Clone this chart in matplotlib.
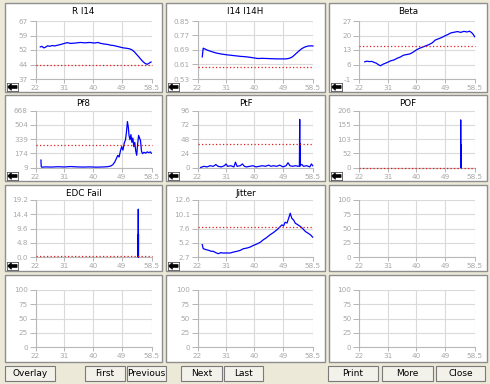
import numpy as np
import matplotlib
matplotlib.use("Agg")
import matplotlib.pyplot as plt
from matplotlib.patches import Rectangle, Polygon

W, H = 490, 384

xticks = [22, 31, 40, 49, 58.5]
xtick_labels = ["22", "31", "40", "49", "58.5"]

ri14_x = [23.5, 24.0, 24.6, 25.2, 25.8, 26.4, 27.2, 28.0, 29.0, 30.0, 31.0, 32.0, 33.0, 34.5,
          36.0, 37.5, 39.0, 40.5, 41.5, 42.5, 43.5, 44.5, 45.5, 46.5, 47.5, 48.5, 49.5, 50.5,
          51.5, 52.3, 53.0, 53.8, 54.5, 55.2, 55.8, 56.4, 57.0, 57.6, 58.2]
ri14_y = [53.6, 53.9, 53.1, 53.5, 54.2, 53.9, 54.3, 54.1, 54.5, 54.9, 55.4, 55.8, 55.4, 55.6,
          55.9, 55.7, 55.9, 55.6, 55.9, 55.4, 55.1, 54.9, 54.5, 54.3, 53.9, 53.5, 53.1, 52.9,
          52.6, 52.0, 51.0, 49.5, 48.2, 46.8, 45.8, 45.0, 44.6, 45.2, 45.8]

i14_x = [23.5, 23.8, 24.3, 25.0, 26.0, 27.0, 28.0, 29.5, 31.0, 32.5, 34.0, 35.5, 37.0, 38.5,
         40.0, 41.0, 42.5, 44.0, 45.5, 47.0, 48.5, 50.0, 51.0, 52.0, 53.0, 54.0, 55.0, 56.0,
         57.0, 58.0, 58.5]
i14_y = [0.652, 0.700, 0.696, 0.690, 0.684, 0.678, 0.673, 0.668, 0.664, 0.661, 0.658, 0.655,
         0.653, 0.650, 0.646, 0.643, 0.644, 0.643, 0.642, 0.641, 0.641, 0.641, 0.644, 0.652,
         0.668, 0.684, 0.698, 0.707, 0.712, 0.713, 0.712]

beta_x = [23.8, 24.5, 25.3, 26.0, 26.8, 27.5, 28.2, 28.8, 29.5, 30.3, 31.2, 32.0, 33.0, 34.0,
          35.0, 36.0, 37.0, 38.0, 39.0, 40.0, 41.0, 42.0, 43.0, 44.0, 45.0, 46.0, 47.0, 48.0,
          49.0, 50.0, 51.0, 52.0, 53.0, 54.0, 55.0, 56.0, 56.8, 57.5, 58.0, 58.4]
beta_y = [7.3, 7.6, 7.4, 7.5, 7.0, 6.6, 5.8, 5.4, 6.1, 6.6, 7.2, 7.8, 8.2, 9.0,
          9.6, 10.5, 10.8, 11.1, 11.9, 13.0, 13.8, 14.4, 15.0, 15.6, 16.4, 17.8, 18.4, 19.0,
          19.8, 20.5, 21.3, 21.6, 21.9, 21.5, 22.0, 21.7, 22.1, 21.3, 20.4, 19.4]

pf8_x = [23.7, 23.8, 24.0, 25.0, 27.0, 29.0, 31.0, 33.0, 35.0, 37.0, 39.0, 41.0, 43.0, 44.5,
         45.5, 46.2, 46.8, 47.3, 47.8, 48.2, 48.6, 49.0, 49.4, 49.8, 50.2, 50.5, 50.8, 51.1,
         51.3, 51.6, 51.9, 52.2, 52.5, 52.8, 53.1, 53.4, 53.7, 54.0, 54.3, 54.6, 54.9, 55.2,
         55.5, 56.0, 56.5, 57.0, 57.5, 58.0, 58.3]
pf8_y = [95, 20, 12, 16, 14, 18, 15, 20, 16, 14, 16, 13, 15, 18,
         25, 40, 70, 110, 150, 130, 200, 250, 210, 290, 330, 420, 540, 470,
         380, 330, 390, 300, 350, 250, 300, 200, 150, 280, 380, 350, 320, 200,
         170, 185, 175, 190, 180, 190, 175]

ptf_x = [23.0, 24.0, 25.0, 26.0, 27.0, 27.8, 28.5, 29.5, 30.5, 31.0, 31.5, 32.5, 33.5, 34.0,
         34.5, 35.5, 36.2, 36.8, 37.5, 38.5, 39.5, 40.5, 41.5, 42.5, 43.5, 44.5, 45.2, 46.0,
         47.0, 48.0, 49.0, 50.0, 50.6, 51.2, 52.0, 53.0, 53.8, 54.2, 54.3, 54.35, 54.4, 54.45,
         55.0, 55.5, 56.5, 57.5, 58.0, 58.4]
ptf_y = [0, 2, 1, 3, 2, 5, 2, 1, 3, 6, 2, 3, 1, 9,
         2, 3, 6, 2, 1, 2, 3, 1, 2, 3, 2, 4, 2, 3,
         2, 4, 1, 3, 8, 3, 2, 3, 2, 3, 81, 2, 40, 4,
         5, 2, 3, 1, 6, 3]

pof_x = [53.98, 54.0, 54.03, 54.06, 54.08]
pof_y = [0, 172, 0, 82, 0]

edc_x = [54.18, 54.2, 54.23, 54.26, 54.28]
edc_y = [0, 16.1, 0, 7.7, 0]

jit_x = [23.5, 23.8, 24.3, 24.9, 25.6, 26.3, 27.0, 27.8, 28.6, 29.3, 30.1, 31.2, 32.3, 33.3,
         34.4, 35.5, 36.5, 37.6, 38.6, 39.6, 40.7, 41.8, 42.8, 43.8, 44.9, 46.0, 47.1, 47.9,
         48.7, 49.2, 49.7, 50.3, 50.8, 51.3, 51.8, 52.4, 52.9, 53.7, 54.5, 55.3, 56.1, 56.9,
         57.7, 58.4]
jit_y = [4.85, 4.15, 4.05, 3.95, 3.85, 3.70, 3.68, 3.45, 3.27, 3.45, 3.39, 3.40, 3.39, 3.55,
         3.68, 3.85, 4.14, 4.25, 4.42, 4.70, 4.94, 5.25, 5.69, 6.05, 6.55, 6.95, 7.42, 7.85,
         8.28, 8.10, 8.74, 8.60, 9.43, 10.3, 9.43, 9.10, 8.57, 8.30, 8.00, 7.60, 7.13, 6.85,
         6.55, 6.15]

# title, x, y, ylim, ytick labels, threshold
panels = [
    ("R I14", ri14_x, ri14_y, (37, 67), ["37", "44", "52", "59", "67"], 44.5),
    ("I14 I14H", i14_x, i14_y, (0.53, 0.85), ["0.53", "0.61", "0.69", "0.77", "0.85"], 0.598),
    ("Beta", beta_x, beta_y, (-1, 27), ["-1", "6", "13", "20", "27"], 15.0),
    ("Pf8", pf8_x, pf8_y, (9, 668), ["9", "174", "339", "504", "668"], 271),
    ("PtF", ptf_x, ptf_y, (0, 96), ["0", "24", "48", "72", "96"], 39.5),
    ("POF", pof_x, pof_y, (0, 206), ["0", "52", "103", "155", "206"], 0),
    ("EDC Fail", edc_x, edc_y, (0, 19.2), ["0.0", "4.8", "9.6", "14.4", "19.2"], 0.45),
    ("Jitter", jit_x, jit_y, (2.7, 12.6), ["2.7", "5.2", "7.6", "10.1", "12.6"], 7.88),
    (None, None, None, (0, 100), ["0", "25", "50", "75", "100"], None),
    (None, None, None, (0, 100), ["0", "25", "50", "75", "100"], None),
    (None, None, None, (0, 100), ["0", "25", "50", "75", "100"], None),
    (None, None, None, (0, 100), ["0", "25", "50", "75", "100"], None),
]

buttons = [("Overlay", 5, 55), ("First", 85, 125), ("Previous", 127, 166),
           ("Next", 181, 222), ("Last", 224, 263), ("Print", 328, 378),
           ("More", 382, 433), ("Close", 436, 485)]

# --- layout in pixels ---
col_ax = [(35.5, 152), (197.5, 313), (359, 475)]
row_ax = [(21, 79), (110.5, 167.5), (200, 257), (290, 347)]
col_pan = [(5, 162), (166, 325), (329, 487)]
row_pan = [(3, 92), (95, 181), (185, 271), (275, 362)]

BG = "#ECE9D8"
GRID = "#DADADA"
TXT = "#A8A8A8"


def box(x0, y0, x1, y1):
    return [x0 / W, 1 - y1 / H, (x1 - x0) / W, (y1 - y0) / H]


fig = plt.figure(figsize=(W / 100, H / 100), dpi=100, facecolor=BG)
plt.rcParams['font.family'] = ['DejaVu Sans']

for i, (title, xs, ys, ylim, ylabels, thr) in enumerate(panels):
    r, c = divmod(i, 3)
    px0, px1 = col_pan[c]
    py0, py1 = row_pan[r]
    fig.patches.append(Rectangle((px0 / W, 1 - py1 / H), (px1 - px0) / W, (py1 - py0) / H,
                                 transform=fig.transFigure, facecolor="white",
                                 edgecolor="#8E8E8E", lw=1, zorder=-10))
    ax = fig.add_axes(box(col_ax[c][0], row_ax[r][0], col_ax[c][1], row_ax[r][1]))
    ax.set_facecolor("white")
    ax.set_xlim(22, 58.5)
    ax.set_ylim(*ylim)
    ax.set_xticks(xticks)
    ax.set_xticklabels(xtick_labels)
    ax.set_yticks(np.linspace(ylim[0], ylim[1], 5))
    ax.set_yticklabels(ylabels)
    ax.grid(True, color=GRID, lw=0.8)
    ax.set_axisbelow(True)
    for s in ("top", "right"):
        ax.spines[s].set_visible(False)
    for s in ("left", "bottom"):
        ax.spines[s].set_color("#B8B8B8")
        ax.spines[s].set_linewidth(0.8)
    ax.tick_params(colors=TXT, labelsize=5.2, length=3, width=0.6, pad=1.5)
    ax.tick_params(axis="y", length=4)
    if title is not None:
        ax.plot(xs, ys, color="#0000FF", lw=0.9, zorder=3, clip_on=False)
        ax.axhline(thr, color="#E02020", lw=0.9, ls=(0, (1, 1.8)), zorder=4, clip_on=False)
        fig.text((px0 + px1) / 2 / W, 1 - (py0 + 9) / H, title,
                 ha="center", va="center", fontsize=6.3, color="black")
        # back-arrow icon
        iax = fig.add_axes(box(px0 + 1.5, py1 - 9, px0 + 13, py1 - 1))
        iax.set_xlim(0, 1)
        iax.set_ylim(0, 1)
        iax.set_xticks([])
        iax.set_yticks([])
        iax.set_facecolor("white")
        for sp in iax.spines.values():
            sp.set_color("#555555")
            sp.set_linewidth(0.6)
        iax.add_patch(Polygon([[0.08, 0.5], [0.42, 0.92], [0.42, 0.68], [0.92, 0.68],
                               [0.92, 0.32], [0.42, 0.32], [0.42, 0.08]],
                              closed=True, facecolor="black", edgecolor="black", lw=0.5))

for label, bx0, bx1 in buttons:
    fig.patches.append(Rectangle((bx0 / W, 1 - 381 / H), (bx1 - bx0) / W, 15 / H,
                                 transform=fig.transFigure, facecolor="#F2F1EA",
                                 edgecolor="#7A7A7A", lw=0.8, zorder=-10))
    fig.text((bx0 + bx1) / 2 / W, 1 - 373.5 / H, label, ha="center", va="center",
             fontsize=6.5, color="black")

fig.savefig("out.png", dpi=100, facecolor=BG)
